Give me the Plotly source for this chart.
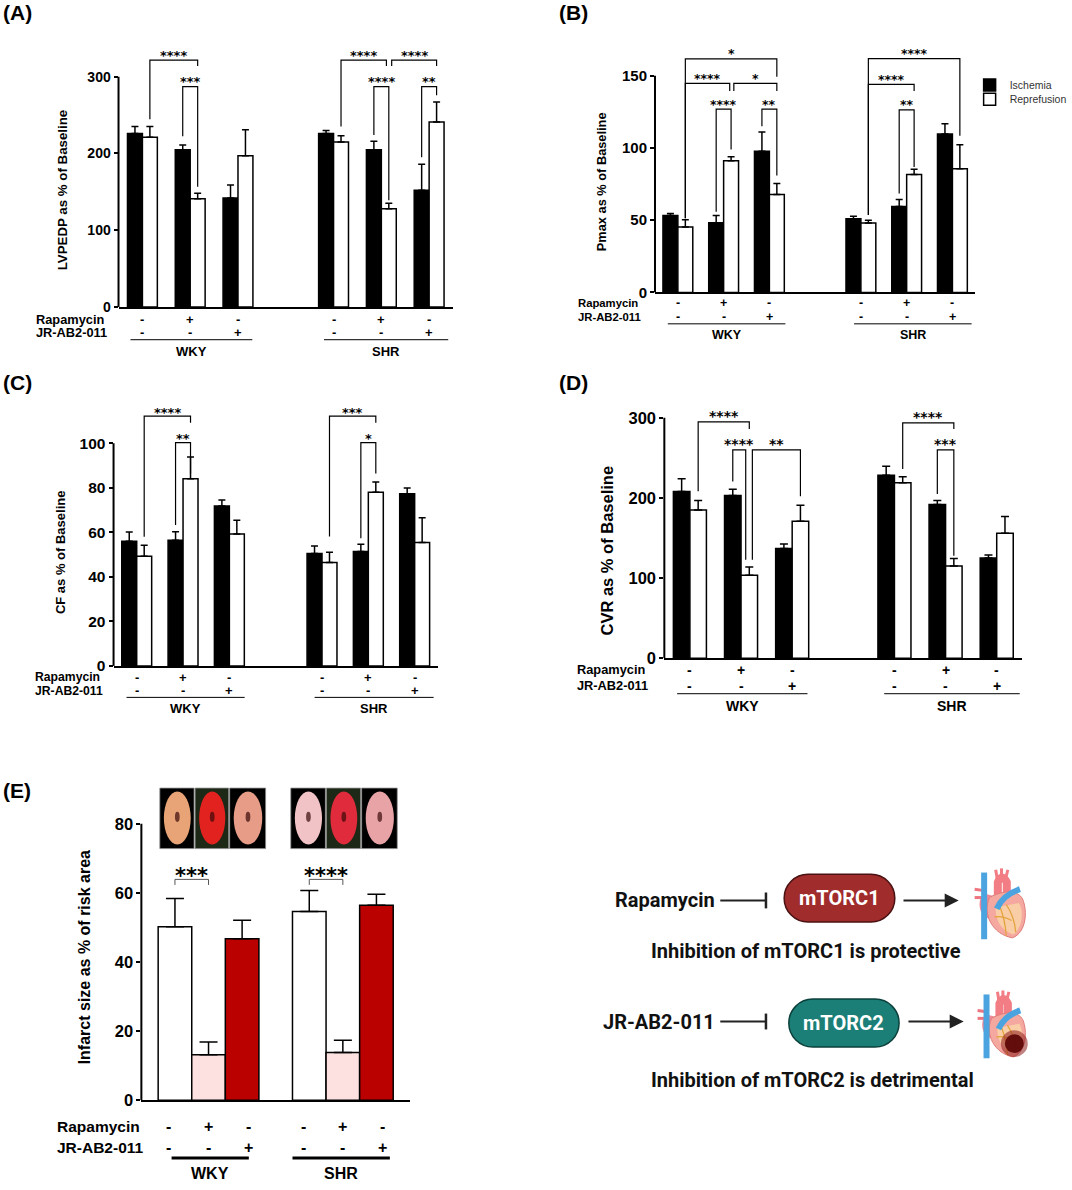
import plotly.graph_objects as go

W, H = 1072, 1190
FONT = "Liberation Sans"
STAR_FONT = "DejaVu Sans"
SCHEME_FONT = "Roboto"

# ---------------- data ----------------
strains = ["WKY", "SHR"]
row_labels = ["Rapamycin", "JR-AB2-011"]
rapamycin_row = ["-", "+", "-", "-", "+", "-"]
jr_row = ["-", "-", "+", "-", "-", "+"]
series_names = ["Ischemia", "Reprefusion"]

lvedp_isch = [226, 205, 142, 226, 205, 152]
lvedp_isch_err = [9, 6, 17, 4, 11, 34]
lvedp_rep = [221, 141, 197, 215, 128, 241]
lvedp_rep_err = [14, 7, 34, 8, 7, 26]

pmax_isch = [53.2, 48.3, 97.8, 51.1, 59.5, 109.7]
pmax_isch_err = [1.5, 4.9, 13.2, 1.6, 4.8, 7.1]
pmax_rep = [45.3, 91.1, 67.8, 48.1, 81.7, 85.6]
pmax_rep_err = [5.1, 2.8, 7.7, 1.8, 3.5, 16.7]

cf_isch = [56.0, 56.5, 71.8, 50.5, 51.4, 77.4]
cf_isch_err = [4.2, 3.8, 2.7, 3.4, 3.3, 2.5]
cf_rep = [49.3, 84.1, 59.3, 46.5, 78.0, 55.4]
cf_rep_err = [4.9, 9.8, 6.1, 4.6, 4.6, 11.2]

cvr_isch = [208, 203, 137, 228.5, 192, 125]
cvr_isch_err = [16, 8, 5.5, 11, 5, 4]
cvr_rep = [185, 103.5, 171, 219, 115, 156]
cvr_rep_err = [12, 10.5, 20, 7.5, 9.5, 21]

infarct = [50.2, 13.2, 46.7, 54.6, 13.8, 56.4]
infarct_err = [8.2, 3.7, 5.4, 6.1, 3.6, 3.2]
infarct_colors = ["#FFFFFF", "#FDE1E1", "#BB0000", "#FFFFFF", "#FDE1E1", "#BB0000"]

# significance brackets: (left bar, right bar, top, left foot, right foot, label)
brackets_A = [((0, "w"), (1, "w"), 321.6, 244.5, 314, "****"),
              ((1, "b"), (1, "w"), 287.2, 222.5, 156.5, "***"),
              ((3, "w"), (4, "w", -0.05), 321.6, 235, 314, "****"),
              ((4, "w", 0.06), (5, "w"), 321.6, 314, 314, "****"),
              ((4, "b"), (4, "w"), 287.2, 224, 139, "****"),
              ((5, "b"), (5, "w"), 287.2, 195, 276, "**")]
brackets_B = [((0, "w"), (2, "w"), 161.7, 51.3, 149.3, "*"),
              ((0, "w"), (1, "w", -0.03), 144.7, 51.3, 139.4, "****"),
              ((1, "w", 0.06), (2, "w"), 144.7, 139.4, 139.4, "*"),
              ((1, "b"), (1, "w"), 126.9, 55.9, 98.9, "****"),
              ((2, "b"), (2, "w"), 126.9, 115, 81, "**"),
              ((3, "w"), (5, "w"), 161.9, 53.6, 108.5, "****"),
              ((3, "w"), (4, "w"), 144.0, 53.6, 139.4, "****"),
              ((4, "b"), (4, "w"), 126.4, 68.5, 86.8, "**")]
brackets_C = [((0, "w"), (1, "w"), 112.2, 58, 109.2, "****"),
              ((1, "b"), (1, "w"), 100.3, 63.3, 86.4, "**"),
              ((3, "w"), (4, "w"), 112.2, 58.1, 109.2, "***"),
              ((4, "b"), (4, "w"), 100.3, 57.4, 86.4, "*")]
brackets_D = [((0, "w"), (1, "w"), 295, 208.4, 286, "****"),
              ((1, "b"), (1, "w", -0.07), 260, 220.7, 122.9, "****"),
              ((1, "w", 0.06), (2, "w"), 260, 122.9, 202.2, "**"),
              ((3, "w"), (4, "w"), 293.8, 236, 286, "****"),
              ((4, "b"), (4, "w"), 260, 205, 127.9, "***")]
brackets_E = [((0, "c"), (1, "c"), 63.9, 62.3, 62.3, "***"),
              ((3, "c"), (4, "c"), 63.9, 62.3, 62.3, "****")]

# ---------------- helpers ----------------
group_pos = [4 * s + t for s in range(len(strains)) for t in range(3)]


def fx(px):
    return px / W


def fy(py):
    return 1 - py / H


def ppath(points_cmds):
    """Build an SVG path in paper coordinates from pixel points."""
    out = []
    for cmd, pts in points_cmds:
        coords = " ".join(f"{fx(x):.5f},{fy(y):.5f}" for x, y in pts)
        out.append(f"{cmd}{coords}")
    return " ".join(out)


fig = go.Figure()
shapes = []
annots = []
layout_axes = {}

panels = [
    dict(n=1, label="(A)", lab_xy=(1, 13), title="LVPEDP as % of Baseline", title_xy=(63.3, 190.9), title_fs=13.3,
         isch=lvedp_isch, isch_err=lvedp_isch_err, rep=lvedp_rep, rep_err=lvedp_rep_err, brackets=brackets_A,
         x0=119.3, x1=456, base=309.3, tpx=77.3, tmax=300, dtick=100, ymax=345, xr=(-0.5, 6.5), bw=0.3125,
         tick_fs=14, row_fs=12.8, star_fs=13, rows=(12.4, 25.7, 33, 44.7), row_x=35,
         under=[(-0.25, 2.3), (3.8, 6.4)], legend=None, cap=3.5, star_gap=8.4, grp_fs=13),
    dict(n=2, label="(B)", lab_xy=(561, 13), title="Pmax as % of Baseline", title_xy=(605.7, 182.8), title_fs=12.8,
         isch=pmax_isch, isch_err=pmax_isch_err, rep=pmax_rep, rep_err=pmax_rep_err, brackets=brackets_B,
         x0=659.3, x1=981.7, base=294.7, tpx=76.3, tmax=150, dtick=50, ymax=175, xr=(-0.5, 6.5), bw=0.326,
         tick_fs=15, row_fs=11.3, star_fs=12.5, rows=(11, 24.3, 31.6, 43), row_x=580.5,
         under=[(-0.22, 2.35), (3.85, 6.42)], legend=("legend", "legend2"), cap=3.5, star_gap=8, grp_fs=12.5),
    dict(n=3, label="(C)", lab_xy=(1, 385), title="CF as % of Baseline", title_xy=(61, 556.7), title_fs=13,
         isch=cf_isch, isch_err=cf_isch_err, rep=cf_rep, rep_err=cf_rep_err, brackets=brackets_C,
         x0=114.3, x1=440.7, base=671, tpx=446.7, tmax=100, dtick=20, ymax=122, xr=(-0.5, 6.5), bw=0.323,
         tick_fs=15.5, row_fs=12.2, star_fs=13, rows=(11.3, 24.7, 31.7, 42.3), row_x=34,
         under=[(-0.22, 2.33), (3.84, 6.41)], legend=None, cap=3.5, star_gap=7.6, grp_fs=13),
    dict(n=4, label="(D)", lab_xy=(561, 385), title="CVR as % of Baseline", title_xy=(610.7, 555), title_fs=16.5,
         isch=cvr_isch, isch_err=cvr_isch_err, rep=cvr_rep, rep_err=cvr_rep_err, brackets=brackets_D,
         x0=668.7, x1=1029, base=663.3, tpx=421, tmax=300, dtick=100, ymax=318, xr=(-0.5, 6.5), bw=0.323,
         tick_fs=16.5, row_fs=12.8, star_fs=14, rows=(11.7, 27.4, 35.7, 47.4), row_x=580,
         under=[(-0.25, 2.3), (3.8, 6.45)], legend=None, cap=4, star_gap=10, grp_fs=14),
]


def bar_x(spec, hw):
    g, side = spec[0], spec[1]
    d = spec[2] if len(spec) > 2 else 0
    return group_pos[g] + {"b": -hw, "w": hw, "c": 0}[side] + d


def axis_setup(p):
    n = p["n"]
    xid = "x" if n == 1 else f"x{n}"
    yid = "y" if n == 1 else f"y{n}"
    scale = (p["base"] - p["tpx"]) / p["tmax"]
    top_px = p["base"] - p["ymax"] * scale
    plot_h = p["base"] - top_px
    layout_axes["xaxis" if n == 1 else f"xaxis{n}"] = dict(
        domain=[fx(p["x0"]), fx(p["x1"])], range=list(p["xr"]), anchor=yid,
        showline=True, linecolor="black", linewidth=2, ticks="", showticklabels=False,
        showgrid=False, zeroline=False, fixedrange=True)
    layout_axes["yaxis" if n == 1 else f"yaxis{n}"] = dict(
        domain=[fy(p["base"]), fy(top_px)], range=[0, p["ymax"]], anchor=xid,
        tickmode="array", tickvals=list(range(0, p["tmax"] + 1, p["dtick"])),
        ticks="outside", ticklen=4, tickwidth=2, tickcolor="black",
        showline=False, showgrid=False, zeroline=False, fixedrange=True,
        tickfont=dict(family=FONT, size=p["tick_fs"], color="black", weight="bold"))
    # y axis line only up to the last tick
    shapes.append(dict(type="line", xref=f"{xid} domain", yref=yid, x0=0, x1=0, y0=0, y1=p["tmax"],
                       line=dict(color="black", width=2)))
    # panel label and axis title
    annots.append(dict(text=p["label"], xref="paper", yref="paper", x=fx(p["lab_xy"][0]), y=fy(p["lab_xy"][1]),
                       xanchor="left", yanchor="middle", showarrow=False,
                       font=dict(family=FONT, size=21, color="black", weight="bold")))
    annots.append(dict(text=p["title"], xref="paper", yref="paper", x=fx(p["title_xy"][0]), y=fy(p["title_xy"][1]),
                       xanchor="center", yanchor="middle", textangle=-90, showarrow=False,
                       font=dict(family=FONT, size=p["title_fs"], color="black", weight="bold")))
    # treatment rows
    rf = dict(family=FONT, size=p["row_fs"], color="black", weight="bold")
    sf = dict(family=FONT, size=p.get("grp_fs", p["row_fs"]), color="black", weight="bold")
    for r, (lab, vals) in enumerate(zip(row_labels, [rapamycin_row, jr_row])):
        annots.append(dict(text=lab, xref="paper", yref=yid, x=fx(p["row_x"]), y=0, yshift=-p["rows"][r],
                           xanchor="left", yanchor="middle", showarrow=False, font=rf, borderpad=0))
        for g, v in enumerate(vals):
            xc = group_pos[g]
            if "spread" in p:
                mid = group_pos[(g // 3) * 3 + 1]
                xc = mid + (xc - mid) * p["spread"]
            annots.append(dict(text=v, xref=xid, yref=yid, x=xc, y=0, yshift=-p["rows"][r],
                               xanchor="center", yanchor="middle", showarrow=False, font=sf))
    for s, (ua, ub) in enumerate(p["under"]):
        shapes.append(dict(type="line", xref=xid, yref=f"{yid} domain", x0=ua, x1=ub,
                           y0=-p["rows"][2] / plot_h, y1=-p["rows"][2] / plot_h,
                           line=dict(color="black", width=p.get("under_w", 1))))
        annots.append(dict(text=strains[s], xref=xid, yref=yid, x=(ua + ub) / 2, y=0, yshift=-p["rows"][3],
                           xanchor="center", yanchor="middle", showarrow=False, font=sf))
    # significance brackets
    hw = p["bw"] / 2
    for (a, b, top, ya, yb, lab) in p["brackets"]:
        xa, xb = bar_x(a, hw), bar_x(b, hw)
        shapes.append(dict(type="path", xref=xid, yref=yid,
                           path=f"M{xa},{ya} L{xa},{top} L{xb},{top} L{xb},{yb}",
                           line=dict(color=p.get("br_color", "black"), width=p.get("br_w", 1.2))))
        fs = p["star_fs"]
        annots.append(dict(text=lab, xref=xid, yref=yid, x=(xa + xb) / 2, y=top,
                           yshift=p["star_gap"] - (0.92 * fs + 1), xanchor="center", yanchor="bottom",
                           showarrow=False, font=dict(family=STAR_FONT, size=fs, color="black", weight="bold")))
    return xid, yid


for p in panels:
    xid, yid = axis_setup(p)
    bw = p["bw"]
    leg = p["legend"]
    fig.add_trace(go.Bar(
        x=group_pos, y=p["isch"], width=bw, offset=-bw, xaxis=xid, yaxis=yid,
        name=series_names[0], legendgroup=series_names[0], showlegend=leg is not None,
        legend=leg[0] if leg else "legend",
        marker=dict(color="black", line=dict(color="black", width=1.5)),
        error_y=dict(type="data", array=p["isch_err"], arrayminus=[0] * 6, symmetric=False,
                     color="black", thickness=1.5, width=p["cap"])))
    fig.add_trace(go.Bar(
        x=group_pos, y=p["rep"], width=bw, offset=0, xaxis=xid, yaxis=yid,
        name=series_names[1], legendgroup=series_names[1], showlegend=leg is not None,
        legend=leg[1] if leg else "legend",
        marker=dict(color="white", line=dict(color="black", width=1.5)),
        error_y=dict(type="data", array=p["rep_err"], arrayminus=[0] * 6, symmetric=False,
                     color="black", thickness=1.5, width=p["cap"])))

# ---------------- panel E ----------------
pE = dict(n=5, label="(E)", lab_xy=(1, 796.7), title="Infarct size as % of risk area", title_xy=(85, 964.2), title_fs=16,
          brackets=brackets_E, x0=142.3, x1=412.7, base=1108.7, tpx=830, tmax=80, dtick=20, ymax=93,
          xr=(-1, 7), bw=1.0, tick_fs=16.5, row_fs=15.5, star_fs=21, rows=(26.3, 47, 58, 73), row_x=56,
          under=[(-0.1, 2.2), (3.5, 6.4)], under_w=3, grp_fs=16, spread=1.18, br_color="#555", br_w=1,
          star_gap=10)
xid, yid = axis_setup(pE)
fig.add_trace(go.Bar(
    x=group_pos, y=infarct, width=1, offset=-0.5, xaxis=xid, yaxis=yid, showlegend=False,
    name="Infarct size",
    marker=dict(color=infarct_colors, line=dict(color="black", width=1.5)),
    error_y=dict(type="data", array=infarct_err, arrayminus=[0] * 6, symmetric=False,
                 color="black", thickness=1.5, width=9)))

# heart slice photographs (approximated)
tiles = [(-0.45, 0.57, "#000000", "#E8A476"), (0.6, 1.6, "#1D2816", "#E1221F"), (1.63, 2.7, "#000000", "#E69C86"),
         (3.45, 4.48, "#000000", "#F1C3C6"), (4.51, 5.53, "#1D2816", "#DF2B3B"), (5.56, 6.62, "#000000", "#E8A3A7")]
for (ta, tb, bg, sl) in tiles:
    shapes.append(dict(type="rect", xref=xid, yref=yid, x0=ta, x1=tb, y0=72.8, y1=90.3,
                       fillcolor=bg, line=dict(color="#8a8a8a", width=0.8), layer="above"))
    shapes.append(dict(type="circle", xref=xid, yref=yid, x0=ta + 0.12, x1=tb - 0.1, y0=74.0, y1=89.3,
                       fillcolor=sl, line=dict(width=0), layer="above"))
    cx = (ta + tb) / 2
    shapes.append(dict(type="circle", xref=xid, yref=yid, x0=cx - 0.06, x1=cx + 0.08, y0=80.5, y1=83.5,
                       fillcolor="#3a0a0a", opacity=0.7, line=dict(width=0), layer="above"))

# ---------------- schematic ----------------
TXT = dict(family=SCHEME_FONT, color="#111111", weight="bold")
for lab, yc in [("Rapamycin", 907.3), ("JR-AB2-011", 1029.3)]:
    annots.append(dict(text=lab, xref="paper", yref="paper", x=fx(721.7), y=fy(yc), xanchor="right",
                       yanchor="middle", showarrow=False, font=dict(TXT, size=20)))
    shapes.append(dict(type="line", xref="paper", yref="paper", x0=fx(725), x1=fx(771), y0=fy(yc), y1=fy(yc),
                       line=dict(color="#222222", width=2)))
    shapes.append(dict(type="line", xref="paper", yref="paper", x0=fx(771), x1=fx(771), y0=fy(yc - 8),
                       y1=fy(yc + 8), line=dict(color="#222222", width=2.5)))


def pill(x0, y0, x1, y1, fill, edge):
    r = (y1 - y0) / 2
    k = 0.5523 * r
    d = (f"M{fx(x0 + r)},{fy(y0)} L{fx(x1 - r)},{fy(y0)} "
         f"C{fx(x1 - r + k)},{fy(y0)} {fx(x1)},{fy(y0 + r - k)} {fx(x1)},{fy(y0 + r)} "
         f"C{fx(x1)},{fy(y0 + r + k)} {fx(x1 - r + k)},{fy(y1)} {fx(x1 - r)},{fy(y1)} "
         f"L{fx(x0 + r)},{fy(y1)} "
         f"C{fx(x0 + r - k)},{fy(y1)} {fx(x0)},{fy(y0 + r + k)} {fx(x0)},{fy(y0 + r)} "
         f"C{fx(x0)},{fy(y0 + r - k)} {fx(x0 + r - k)},{fy(y0)} {fx(x0 + r)},{fy(y0)} Z")
    shapes.append(dict(type="path", xref="paper", yref="paper", path=d, fillcolor=fill,
                       line=dict(color=edge, width=1.5)))


pill(789.3, 881, 900.7, 929, "#A02C2C", "#4a1212")
pill(794, 1006.7, 905, 1055, "#1B7F77", "#0c403b")
annots.append(dict(text="mTORC1", xref="paper", yref="paper", x=fx(845), y=fy(905), xanchor="center",
                   yanchor="middle", showarrow=False, font=dict(family=SCHEME_FONT, size=20, color="white", weight="bold")))
annots.append(dict(text="mTORC2", xref="paper", yref="paper", x=fx(849.5), y=fy(1030.8), xanchor="center",
                   yanchor="middle", showarrow=False, font=dict(family=SCHEME_FONT, size=20, color="white", weight="bold")))
for (t0, t1, yc) in [(908.3, 965, 907.3), (913.3, 970, 1029.3)]:
    annots.append(dict(text="", xref="paper", yref="paper", x=fx(t1), y=fy(yc), ax=t0 - t1, ay=0,
                       showarrow=True, arrowhead=2, arrowsize=1.4, arrowwidth=2, arrowcolor="#222222", standoff=0))
annots.append(dict(text="Inhibition of mTORC1 is protective", xref="paper", yref="paper", x=fx(810.8), y=fy(958.3),
                   xanchor="center", yanchor="middle", showarrow=False, font=dict(TXT, size=20)))
annots.append(dict(text="Inhibition of mTORC2 is detrimental", xref="paper", yref="paper", x=fx(817.5), y=fy(1088.3),
                   xanchor="center", yanchor="middle", showarrow=False, font=dict(TXT, size=20)))


def heart(x0, y0, w, h, infarct_spot=False):
    def P(u, v):
        return (x0 + u * w, y0 + v * h)

    def seg(cmd, *uv):
        return (cmd, [P(u, v) for u, v in uv])

    def line_path(pts_cmds, color, width):
        shapes.append(dict(type="path", xref="paper", yref="paper", path=ppath(pts_cmds),
                           line=dict(color=color, width=width)))

    def fill_path(pts_cmds, fill, edge=None, ew=0):
        shapes.append(dict(type="path", xref="paper", yref="paper", path=ppath(pts_cmds) + " Z",
                           fillcolor=fill, line=dict(color=edge or fill, width=ew)))

    # left pulmonary veins
    line_path([seg("M", (0.02, 0.3)), seg("L", (0.2, 0.32))], "#EE7580", 3)
    line_path([seg("M", (0.02, 0.42)), seg("L", (0.2, 0.42))], "#EE7580", 3)
    # left atrium
    fill_path([seg("M", (0.2, 0.36)), seg("C", (0.05, 0.45), (0.1, 0.7), (0.3, 0.72)),
               seg("L", (0.4, 0.4))], "#F08A98")
    # aorta arch and branches
    line_path([seg("M", (0.46, 0.52)), seg("L", (0.46, 0.2)), seg("Q", (0.54, 0.06), (0.63, 0.2)),
               seg("L", (0.63, 0.38))], "#F27D84", 8)
    for (a, b) in [((0.45, 0.16), (0.42, 0.02)), ((0.53, 0.1), (0.53, 0.0)), ((0.61, 0.14), (0.65, 0.02))]:
        line_path([seg("M", a), seg("L", b)], "#F27D84", 3)
    # ventricles
    fill_path([seg("M", (0.3, 0.42)), seg("C", (0.16, 0.66), (0.36, 0.95), (0.74, 1.0)),
               seg("C", (1.0, 0.92), (1.03, 0.62), (0.93, 0.44)),
               seg("C", (0.85, 0.32), (0.58, 0.3), (0.3, 0.42))], "#F5A8A0", "#E07C78", 1)
    fill_path([seg("M", (0.42, 0.56)), seg("C", (0.4, 0.76), (0.56, 0.92), (0.76, 0.95)),
               seg("C", (0.92, 0.86), (0.96, 0.62), (0.86, 0.5))], "#F9CDA6")
    # coronary vessels
    line_path([seg("M", (0.5, 0.55)), seg("Q", (0.6, 0.75), (0.62, 0.97))], "#E3A43E", 1.3)
    line_path([seg("M", (0.62, 0.52)), seg("Q", (0.78, 0.7), (0.8, 0.92))], "#E3A43E", 1.3)
    line_path([seg("M", (0.4, 0.7)), seg("Q", (0.55, 0.68), (0.72, 0.75))], "#E3A43E", 1.3)
    # superior / inferior vena cava
    line_path([seg("M", (0.2, 0.06)), seg("L", (0.2, 1.02))], "#4BA4DF", 6)
    # pulmonary artery
    line_path([seg("M", (0.44, 0.58)), seg("Q", (0.56, 0.38), (0.88, 0.3))], "#4BA4DF", 6)
    if infarct_spot:
        for rr, col, op in [(0.27, "#8E1C1C", 0.55), (0.19, "#5E0909", 0.95)]:
            cx, cy = P(0.76, 0.8)
            r = rr * w
            shapes.append(dict(type="circle", xref="paper", yref="paper", x0=fx(cx - r), x1=fx(cx + r),
                               y0=fy(cy + r), y1=fy(cy - r), fillcolor=col, opacity=op, line=dict(width=0)))


heart(980, 875, 53, 70)
heart(983, 998, 50, 67, infarct_spot=True)

leg_common = dict(xanchor="left", yanchor="top", bgcolor="rgba(0,0,0,0)",
                  font=dict(family=FONT, size=10.5, color="#333333"), itemwidth=30, tracegroupgap=0)
fig.update_layout(
    width=W, height=H, margin=dict(l=0, r=0, t=0, b=0),
    paper_bgcolor="white", plot_bgcolor="rgba(0,0,0,0)",
    barmode="overlay", showlegend=True,
    font=dict(family=FONT, color="black"),
    legend=dict(leg_common, x=fx(976), y=fy(71)),
    legend2=dict(leg_common, x=fx(976), y=fy(85.3)),
    shapes=shapes, annotations=annots, **layout_axes)

fig.write_html("out.html", config={"displayModeBar": False},
               post_script="document.body.style.margin='0';document.body.style.overflow='hidden';")
